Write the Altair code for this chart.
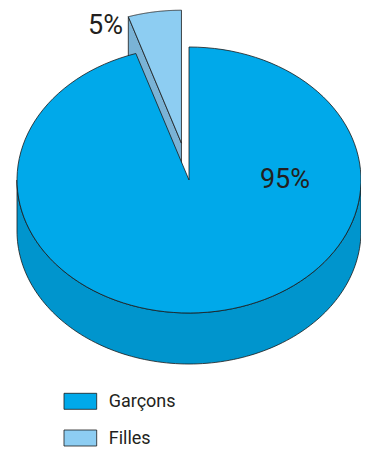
import math
import altair as alt
import pandas as pd

# ---- data ----
categories = ["Garçons", "Filles"]
values = [95, 5]

# ---- styles / layout ----
top_colors = ["#00a9ea", "#8dcdf2"]
side_colors = ["#0095cd", "#7ab3d6"]
TEXT_COLOR = "#231f20"
EDGE = "#1a1a1a"
FONT = "Roboto"

W, H = 353, 444
CX, CY, RX, RY, DEPTH = 181, 172, 172, 133, 51
EXPLODED = "Filles"
EXPLODE = 0.28
N = 120
LABEL_POLAR = {"Garçons": (90, 0.558), "Filles": (333.36, 0.986)}
LABEL_SIZE = 27
LEG_X, LEG_Y0, LEG_DY, LEG_W, LEG_H = 56, 393.3, 36.7, 32.7, 16
LEG_FONT = 18

df = pd.DataFrame({"cat": categories, "value": values, "idx": list(range(len(categories)))})

XS = alt.Scale(domain=[0, W], nice=False, zero=False)
YS = alt.Scale(domain=[0, H], nice=False, zero=False, reverse=True)
SIDE = "|side"
fill_scale = alt.Scale(domain=categories + [c + SIDE for c in categories],
                       range=top_colors + side_colors)


def X(f):
    return alt.X(f"{f}:Q", scale=XS, axis=None)


def Y(f):
    return alt.Y(f"{f}:Q", scale=YS, axis=None)


def FILL():
    return alt.Color("key:N", scale=fill_scale, legend=None)


def base(cat):
    return (
        alt.Chart(df)
        .transform_joinaggregate(total="sum(value)")
        .transform_window(cum="sum(value)", sort=[alt.SortField("idx", order="ascending")], frame=[None, 0])
        .transform_calculate(a0="2*PI*(datum.cum-datum.value)/datum.total")
        .transform_calculate(a1="2*PI*datum.cum/datum.total")
        .transform_calculate(mid="(datum.a0+datum.a1)/2")
        .transform_calculate(ex=f"datum.cat === '{EXPLODED}' ? {EXPLODE} : 0")
        .transform_calculate(ox=f"{CX} + {RX}*datum.ex*sin(datum.mid)")
        .transform_calculate(oy=f"{CY} - {RY}*datum.ex*cos(datum.mid)")
        .transform_filter(f"datum.cat === '{cat}'")
    )


def poly(chart):
    return chart.mark_line(filled=True, stroke=EDGE, strokeWidth=0.8, strokeJoin="round").encode(
        x=X("px"), y=Y("py"), order="i:Q", color=FILL()
    )


def top_face(cat):
    return poly(
        base(cat)
        .transform_calculate(key="datum.cat")
        .transform_calculate(i=f"sequence(0, {N + 3})")
        .transform_flatten(["i"])
        .transform_calculate(t=f"datum.a0 + (datum.i-1)/{N}*(datum.a1-datum.a0)")
        .transform_calculate(c=f"datum.i == 0 || datum.i == {N + 2}")
        .transform_calculate(px=f"datum.c ? datum.ox : datum.ox + {RX}*sin(datum.t)")
        .transform_calculate(py=f"datum.c ? datum.oy : datum.oy - {RY}*cos(datum.t)")
    )


def side_band(cat):
    return poly(
        base(cat)
        .transform_calculate(key=f"datum.cat + '{SIDE}'")
        .transform_calculate(lo="max(datum.a0, PI/2)")
        .transform_calculate(hi="min(datum.a1, 3*PI/2)")
        .transform_filter("datum.lo < datum.hi")
        .transform_calculate(i=f"sequence(0, {2 * N + 3})")
        .transform_flatten(["i"])
        .transform_calculate(
            t=f"datum.i <= {N} ? datum.lo + datum.i/{N}*(datum.hi-datum.lo) : "
              f"(datum.i <= {2 * N + 1} ? datum.hi - (datum.i-{N + 1})/{N}*(datum.hi-datum.lo) : datum.lo)"
        )
        .transform_calculate(b=f"datum.i > {N} && datum.i <= {2 * N + 1}")
        .transform_calculate(px=f"datum.ox + {RX}*sin(datum.t)")
        .transform_calculate(py=f"datum.oy - {RY}*cos(datum.t) + (datum.b ? {DEPTH} : 0)")
    )


def cut_face(cat, which):
    angle = "datum.a0" if which == "start" else "datum.a1"
    cond = f"sin({angle}) < -1e-9" if which == "start" else f"sin({angle}) > 1e-9"
    return poly(
        base(cat)
        .transform_filter(cond)
        .transform_calculate(key=f"datum.cat + '{SIDE}'")
        .transform_calculate(a=angle)
        .transform_calculate(i="sequence(0, 5)")
        .transform_flatten(["i"])
        .transform_calculate(o="datum.i == 1 || datum.i == 2")
        .transform_calculate(b="datum.i == 2 || datum.i == 3")
        .transform_calculate(px=f"datum.ox + (datum.o ? {RX}*sin(datum.a) : 0)")
        .transform_calculate(py=f"datum.oy - (datum.o ? {RY}*cos(datum.a) : 0) + (datum.b ? {DEPTH} : 0)")
    )


def label(cat):
    ang, r = LABEL_POLAR[cat]
    return (
        base(cat)
        .transform_calculate(px=f"datum.ox + {RX}*{r}*sin({math.radians(ang)})")
        .transform_calculate(py=f"datum.oy - {RY}*{r}*cos({math.radians(ang)})")
        .transform_calculate(txt="format(datum.value/datum.total, '.0%')")
        .mark_text(font=FONT, fontSize=LABEL_SIZE, color=TEXT_COLOR, align="center", baseline="middle")
        .encode(x=X("px"), y=Y("py"), text="txt:N")
    )


# painter's order: back slices first
total = sum(values)
cum = 0
mids = []
for v in values:
    mids.append(2 * math.pi * (cum + v / 2) / total)
    cum += v
order = sorted(range(len(categories)), key=lambda k: -math.cos(mids[k]))

layers = []
for k in order:
    c = categories[k]
    layers += [side_band(c), cut_face(c, "start"), cut_face(c, "end"), top_face(c)]
for c in categories:
    layers.append(label(c))

leg = alt.Chart(df).transform_calculate(ly=f"{LEG_Y0} + datum.idx*{LEG_DY}", key="datum.cat")
leg_rect = (
    leg.transform_calculate(x1=f"{LEG_X}", x2=f"{LEG_X + LEG_W}",
                            y1=f"datum.ly - {LEG_H / 2}", y2=f"datum.ly + {LEG_H / 2}")
    .mark_rect(stroke=EDGE, strokeWidth=0.8)
    .encode(x=X("x1"), x2="x2:Q", y=Y("y1"), y2="y2:Q", color=FILL())
)
leg_text = (
    leg.transform_calculate(tx=f"{LEG_X + LEG_W + 12}")
    .mark_text(font=FONT, fontSize=LEG_FONT, color=TEXT_COLOR, align="left", baseline="middle", dy=1)
    .encode(x=X("tx"), y=Y("ly"), text="cat:N")
)
layers += [leg_rect, leg_text]

chart = (
    alt.layer(*layers)
    .properties(width=W, height=H, padding=0, autosize=alt.AutoSizeParams(type="none"), background="white")
    .configure_view(stroke=None)
)

chart.save("out.html", embed_options={"renderer": "svg", "actions": False})
